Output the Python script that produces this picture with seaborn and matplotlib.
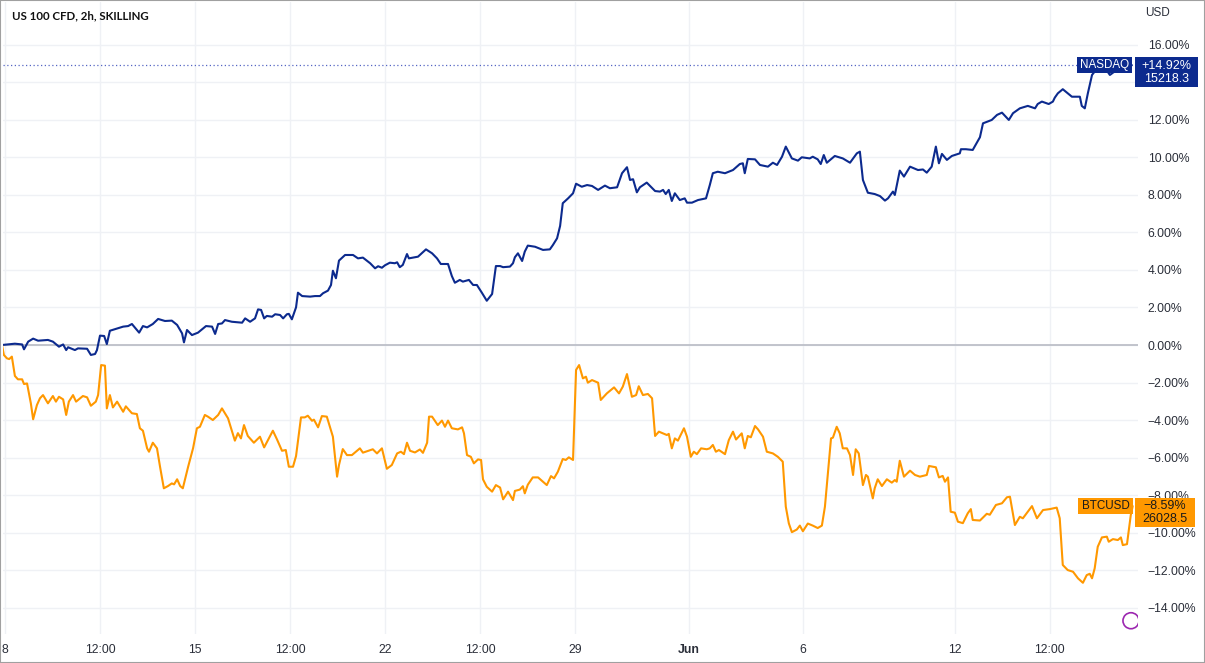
import pandas as pd
import seaborn as sns
import matplotlib.pyplot as plt
from matplotlib.patches import Rectangle, Ellipse

# time axis in trading days since Mon 8 May (weekends collapsed), values in % change
nasdaq_days = [-0.08, 0.13, 0.26, 0.45, 0.5, 0.61, 0.74, 0.87, 1.13, 1.26, 1.42, 1.53, 1.61, 1.66, 1.84, 1.92,
               2.16, 2.26, 2.37, 2.42, 2.5, 2.61, 2.68, 2.76, 2.89, 3.11, 3.24, 3.34, 3.53, 3.63, 3.74, 3.89,
               4.03, 4.21, 4.39, 4.53, 4.66, 4.71, 4.79, 4.92, 5.08, 5.29, 5.45, 5.53, 5.61, 5.71, 5.79, 5.97,
               6.24, 6.32, 6.45, 6.58, 6.66, 6.74, 6.82, 6.89, 7.03, 7.11, 7.24, 7.32, 7.42, 7.47, 7.55, 7.66,
               7.71, 7.82, 8.03, 8.16, 8.29, 8.37, 8.5, 8.58, 8.63, 8.71, 8.79, 8.95, 9.16, 9.29, 9.42, 9.61,
               9.74, 9.82, 9.92, 10.0, 10.13, 10.26, 10.32, 10.39, 10.47, 10.58, 10.63, 10.87, 11.08, 11.24,
               11.37, 11.47, 11.66, 11.76, 11.84, 11.97, 12.05, 12.21, 12.32, 12.42, 12.55, 12.68, 12.82,
               12.92, 13.03, 13.11, 13.29, 13.37, 13.42, 13.5, 13.61, 13.68, 13.76, 13.95, 14.16, 14.34,
               14.42, 14.53, 14.61, 14.68, 14.82, 14.95, 15.03, 15.18, 15.32, 15.45, 15.61, 15.79, 15.92,
               16.11, 16.24, 16.37, 16.45, 16.53, 16.63, 16.71, 16.89, 17.11, 17.24, 17.32, 17.39, 17.47,
               17.55, 17.63, 17.76, 17.89, 17.95, 18.08, 18.24, 18.45, 18.55, 18.63, 18.76, 18.95, 19.16,
               19.34, 19.42, 19.47, 19.55, 19.74, 19.87, 20.08, 20.21, 20.32, 20.45, 20.55, 20.71, 20.87,
               20.97, 21.18, 21.26, 21.39, 21.47, 21.55, 21.63, 21.84, 22.05, 22.24, 22.42, 22.5, 22.58,
               22.71, 22.89, 23.03, 23.16, 23.24, 23.37, 23.42, 23.55, 23.66, 23.82, 24.03, 24.16, 24.26,
               24.39, 24.5, 24.58, 24.66, 24.79, 24.92, 25.13, 25.16, 25.29, 25.47, 25.66, 25.74, 25.97,
               26.11, 26.24, 26.42, 26.53, 26.71, 26.92, 27.11, 27.18, 27.29, 27.47, 27.58, 27.63, 27.71,
               27.84, 27.97, 28.08, 28.29, 28.34, 28.42, 28.5, 28.61, 28.68, 28.82, 28.97, 29.08, 29.18,
               29.39, 29.66]
nasdaq_pct = [0.0, 0.04, 0.07, 0.03, -0.23, 0.18, 0.34, 0.23, 0.27, 0.18, -0.09, 0.03, -0.27, -0.12, -0.27, -0.18,
              -0.2, -0.53, -0.48, -0.27, 0.5, 0.48, 0.05, 0.76, 0.84, 0.98, 1.01, 1.12, 0.66, 1.01, 0.94, 1.12,
              1.39, 1.28, 1.3, 1.07, 0.62, 0.14, 0.8, 0.53, 0.66, 1.01, 0.98, 0.59, 1.12, 1.15, 1.33, 1.24,
              1.19, 1.42, 1.24, 1.42, 1.9, 1.87, 1.42, 1.55, 1.51, 1.64, 1.6, 1.42, 1.64, 1.66, 1.37, 2.01,
              2.79, 2.61, 2.58, 2.61, 2.61, 2.76, 2.9, 3.2, 3.96, 3.56, 4.5, 4.8, 4.8, 4.62, 4.66, 4.36,
              4.09, 4.2, 4.12, 4.25, 4.39, 4.36, 4.41, 4.15, 4.27, 4.85, 4.62, 4.71, 5.1, 4.89,
              4.62, 4.32, 4.32, 3.68, 3.32, 3.47, 3.38, 3.47, 3.2, 3.2, 2.79, 2.36, 2.72,
              4.21, 4.21, 4.15, 4.18, 4.36, 4.68, 4.89, 4.48, 4.98, 5.3, 5.24, 5.07, 5.1,
              5.33, 5.69, 6.35, 7.56, 7.82, 8.09, 8.6, 8.44, 8.53, 8.48, 8.27, 8.5, 8.36,
              8.41, 9.16, 9.48, 8.8, 8.84, 8.14, 8.41, 8.66, 8.21, 8.18, 8.27, 8.05, 8.27,
              7.68, 8.09, 7.73, 7.82, 7.59, 7.59, 7.73, 7.82, 8.53, 9.16, 9.24, 9.16, 9.33,
              9.65, 9.69, 9.16, 9.92, 9.9, 9.6, 9.51, 9.72, 9.6, 10.04, 10.58, 9.95, 9.83,
              10.01, 9.95, 10.04, 9.9, 9.65, 10.13, 9.72, 10.08, 9.95, 9.72, 10.22, 10.31, 8.8,
              8.12, 8.05, 7.94, 7.7, 7.82, 8.18, 8.0, 9.3, 8.98, 9.51, 9.33, 9.36, 9.19,
              9.51, 10.58, 9.69, 10.19, 9.87, 10.08, 10.22, 10.44, 10.44, 10.4, 11.08, 11.82, 12.0,
              12.27, 12.39, 12.0, 12.36, 12.62, 12.75, 12.62, 12.85, 12.98, 12.85, 12.98, 13.19, 13.42,
              13.64, 13.42, 13.24, 13.24, 12.75, 12.62, 13.42, 14.4, 14.58, 14.7, 14.72, 14.4, 14.55,
              14.65, 14.92]

btc_days = [-0.08, -0.03, 0.05, 0.11, 0.18, 0.26, 0.34, 0.45, 0.5, 0.58, 0.68, 0.74, 0.84, 0.92, 1.0, 1.13,
            1.26, 1.34, 1.42, 1.53, 1.61, 1.68, 1.79, 1.87, 2.05, 2.16, 2.26, 2.39, 2.45, 2.53, 2.63, 2.68,
            2.76, 2.84, 2.95, 3.11, 3.18, 3.34, 3.47, 3.55, 3.63, 3.74, 3.79, 3.89, 4.0, 4.08, 4.18, 4.29,
            4.39, 4.45, 4.53, 4.61, 4.68, 4.82, 4.95, 5.05, 5.13, 5.26, 5.34, 5.47, 5.61, 5.71, 5.87, 6.05,
            6.13, 6.21, 6.29, 6.39, 6.55, 6.71, 6.82, 6.92, 7.05, 7.16, 7.29, 7.39, 7.47, 7.58, 7.66, 7.79,
            7.89, 7.97, 8.08, 8.13, 8.24, 8.34, 8.47, 8.55, 8.63, 8.74, 8.79, 8.89, 9.0, 9.13, 9.34, 9.42,
            9.68, 9.79, 9.92, 10.05, 10.18, 10.32, 10.42, 10.5, 10.58, 10.66, 10.79, 10.92, 11.0, 11.11,
            11.16, 11.24, 11.39, 11.5, 11.58, 11.66, 11.76, 11.92, 12.03, 12.08, 12.16, 12.26, 12.34,
            12.45, 12.53, 12.58, 12.68, 12.82, 12.92, 13.03, 13.11, 13.24, 13.37, 13.42, 13.55, 13.63,
            13.68, 13.76, 13.89, 14.03, 14.16, 14.26, 14.37, 14.45, 14.55, 14.68, 14.76, 14.84, 14.95,
            15.03, 15.11, 15.21, 15.29, 15.34, 15.45, 15.61, 15.68, 15.84, 16.03, 16.16, 16.26, 16.37,
            16.5, 16.61, 16.68, 16.79, 16.92, 17.03, 17.11, 17.21, 17.42, 17.47, 17.55, 17.63, 17.71,
            17.87, 17.95, 18.05, 18.13, 18.21, 18.32, 18.47, 18.55, 18.63, 18.71, 18.79, 18.95, 19.05,
            19.16, 19.24, 19.39, 19.47, 19.55, 19.63, 19.74, 19.82, 19.95, 20.05, 20.21, 20.34, 20.47,
            20.55, 20.63, 20.71, 20.84, 20.92, 21.0, 21.13, 21.26, 21.39, 21.5, 21.58, 21.74, 21.79,
            21.89, 21.97, 22.05, 22.16, 22.24, 22.32, 22.39, 22.47, 22.58, 22.66, 22.71, 22.84, 22.89,
            22.97, 23.08, 23.21, 23.34, 23.42, 23.47, 23.55, 23.66, 23.82, 23.95, 24.08, 24.26, 24.32,
            24.5, 24.58, 24.68, 24.74, 24.82, 24.89, 25.0, 25.08, 25.21, 25.34, 25.42, 25.47, 25.66,
            25.84, 25.92, 26.08, 26.24, 26.37, 26.45, 26.58, 26.71, 26.79, 27.03, 27.16, 27.32, 27.5,
            27.68, 27.76, 27.84, 27.97, 28.11, 28.24, 28.37, 28.47, 28.55, 28.61, 28.68, 28.76, 28.87,
            29.0, 29.05, 29.16, 29.29, 29.37, 29.42, 29.53, 29.63, 29.68]
btc_pct = [0.0, -0.53, -0.71, -0.75, -0.62, -1.65, -1.83, -1.83, -2.08, -2.05, -3.11, -3.96, -3.2, -2.84, -2.67, -3.11,
           -2.72, -3.02, -2.76, -2.9, -3.73, -3.02, -2.67, -3.02, -2.72, -2.79, -3.24, -3.02, -2.67, -1.07, -1.1, -3.38,
           -2.67, -3.33, -3.02, -3.56, -3.27, -3.64, -3.68, -4.44, -4.57, -5.51, -5.69, -5.21, -5.51, -6.49, -7.64, -7.52,
           -7.38, -7.43, -7.16, -7.52, -7.64, -6.49, -5.5, -4.44, -4.36, -3.73, -3.82, -4.0, -3.73, -3.38, -3.91, -5.1,
           -4.7, -4.98, -4.27, -4.85, -5.21, -4.89, -5.46, -5.07, -4.57, -5.04, -5.64, -5.6, -6.49, -6.49, -5.92, -3.86,
           -3.86, -3.77, -4.04, -3.98, -4.39, -3.79, -3.82, -4.36, -4.89, -7.02, -6.4, -5.55, -5.87, -5.87, -5.51, -5.74,
           -5.56, -5.78, -5.51, -6.6, -6.4, -5.78, -5.69, -5.82, -5.21, -5.64, -5.73, -5.57, -5.75, -5.21,
           -3.82, -3.82, -4.27, -4.03, -4.36, -4.03, -4.44, -4.5, -4.39, -4.71, -5.87, -5.96, -6.31,
           -6.1, -6.13, -7.16, -7.56, -7.82, -7.47, -7.6, -8.23, -7.82, -8.27, -7.78, -7.71, -7.53,
           -7.91, -7.45, -7.06, -7.06, -7.29, -7.47, -6.99, -7.11, -6.76, -6.08, -6.13, -5.99, -6.13,
           -1.33, -1.07, -1.78, -1.69, -2.01, -1.87, -2.01, -2.93, -2.58, -2.26, -2.58, -2.22, -1.55,
           -2.76, -2.67, -2.2, -2.67, -2.61, -2.84, -4.85, -4.62, -4.8, -4.74, -5.51, -4.98, -5.1,
           -4.44, -4.89, -5.96, -5.69, -5.82, -5.51, -5.56, -5.51, -5.33, -5.69, -5.6, -5.82, -5.07,
           -4.62, -5.04, -4.71, -5.51, -4.85, -4.92, -4.32, -4.5, -4.89, -5.69, -5.78, -5.96, -6.22,
           -8.62, -9.51, -9.98, -9.84, -9.63, -9.93, -9.52, -9.63, -9.76, -9.63, -8.62, -4.98, -4.94,
           -4.36, -4.71, -5.51, -5.51, -5.87, -6.93, -5.56, -5.78, -7.47, -6.93, -7.02, -8.18, -7.64,
           -7.16, -7.52, -7.16, -7.34, -7.2, -7.29, -6.17, -7.02, -6.7, -6.93, -7.02, -6.93, -6.45,
           -6.52, -7.06, -6.98, -7.29, -7.06, -8.89, -8.94, -9.42, -9.5, -8.97, -8.75, -9.33, -9.36,
           -9.0, -9.05, -8.53, -8.44, -8.12, -8.09, -9.6, -9.16, -9.24, -8.59, -9.24, -8.8, -8.75,
           -8.67, -9.24, -11.73, -12.0, -12.09, -12.44, -12.68, -12.27, -12.2, -12.44, -11.91, -10.76, -10.26,
           -10.22, -10.49, -10.35, -10.4, -10.26, -10.67, -10.62, -9.07, -8.59]

nasdaq_price = 15218.3
btc_price = 26028.5

tick_days = [0, 2.5, 5, 7.5, 10, 12.5, 15, 18, 21, 25, 27.5]
tick_labels = ['8', '12:00', '15', '12:00', '22', '12:00', '29', 'Jun', '6', '12', '12:00']
pct_ticks = [-14, -12, -10, -8, -6, -4, -2, 0, 2, 4, 6, 8, 10, 12, 14, 16]

NAVY = '#0c2a8e'
ORANGE = '#ff9800'
GRID = '#eff1f5'
TXT = '#2a2e39'

nasdaq_df = pd.DataFrame({'day': nasdaq_days, 'pct': nasdaq_pct})
btc_df = pd.DataFrame({'day': btc_days, 'pct': btc_pct})

sns.set_theme(style='white')
plt.rcParams['font.family'] = ['Liberation Sans', 'DejaVu Sans']

W, H = 1205, 663
fig = plt.figure(figsize=(W / 100, H / 100), dpi=100)
ax = fig.add_axes([3 / W, 29 / H, 1135 / W, 632 / H])

for d in tick_days:
    ax.axvline(d, color=GRID, lw=1, zorder=0)
for p in pct_ticks:
    ax.axhline(p, color=GRID, lw=1, zorder=0)
ax.axhline(0, color='#b8bbc4', lw=1.2, zorder=1)

sns.lineplot(data=nasdaq_df, x='day', y='pct', ax=ax, color=NAVY, linewidth=1.5, estimator=None, zorder=3)
sns.lineplot(data=btc_df, x='day', y='pct', ax=ax, color=ORANGE, linewidth=1.5, estimator=None, zorder=3)

ax.set_xlim(-0.053, 29.82)
ax.set_ylim(-15.41, 18.29)
for s in ax.spines.values():
    s.set_visible(False)

ax.set_xticks(tick_days)
ax.set_xticklabels(tick_labels)
ax.get_xticklabels()[7].set_fontweight('bold')
ax.yaxis.tick_right()
ax.set_yticks(pct_ticks)
# the 14% label sits under the NASDAQ price tag, so it is not shown
ax.set_yticklabels(['' if p == 14 else f'{p:.2f}%'.replace('-', '\u2212') for p in pct_ticks])
ax.tick_params(axis='y', length=0, pad=7, labelsize=8.8, labelcolor=TXT)
ax.tick_params(axis='x', length=0, pad=7, labelsize=8.8, labelcolor=TXT)
ax.set_xlabel('')
ax.set_ylabel('')

# dotted last-value line for NASDAQ
ax.axhline(nasdaq_pct[-1], xmax=(1077 - 3) / 1135, color='#5566c4', lw=0.9, ls=(0, (1, 2)), zorder=2)

# purple logo circle at bottom right of the pane
ax.add_patch(Ellipse((0.9938, 0.021), 16 / 1135, 16 / 632, transform=ax.transAxes,
                     fill=False, ec='#9c27b0', lw=1.2, clip_on=True))

fig.text(12 / W, 1 - 16 / H, 'US 100 CFD, 2h, SKILLING', fontsize=8.3, fontweight='bold',
         family=['Lato', 'DejaVu Sans'], color='#111111', va='center')
fig.text(1145 / W, 1 - 13 / H, 'USD', fontsize=8.5, color=TXT, va='center')


def tag(x0, x1, yc, h, text, fc, tc, fs):
    fig.add_artist(Rectangle((x0 / W, (yc - h / 2) / H), (x1 - x0) / W, h / H,
                             transform=fig.transFigure, fc=fc, ec='none', zorder=5))
    fig.text((x0 + x1) / 2 / W, yc / H, text, ha='center', va='center', fontsize=fs,
             color=tc, linespacing=1.15, zorder=6)


y_n = ax.transData.transform((0, nasdaq_pct[-1]))[1]
y_b = ax.transData.transform((0, btc_pct[-1]))[1]

tag(1077, 1132, y_n, 16, 'NASDAQ', NAVY, 'white', 8.4)
tag(1135, 1198, y_n - 7, 30, f'{nasdaq_pct[-1]:+.2f}%\n{nasdaq_price}', NAVY, 'white', 9)
tag(1078, 1133, y_b, 16, 'BTCUSD', ORANGE, '#1a1a1a', 8.4)
tag(1135, 1195, y_b - 6.5, 29, f'{btc_pct[-1]:+.2f}%'.replace('-', '\u2212') + f'\n{btc_price}',
    ORANGE, '#1a1a1a', 9)

fig.add_artist(Rectangle((0, 0), 1, 1, transform=fig.transFigure, fill=False, ec='#a0a0a0', lw=1.5, zorder=10))

fig.savefig('out.png', dpi=100)
